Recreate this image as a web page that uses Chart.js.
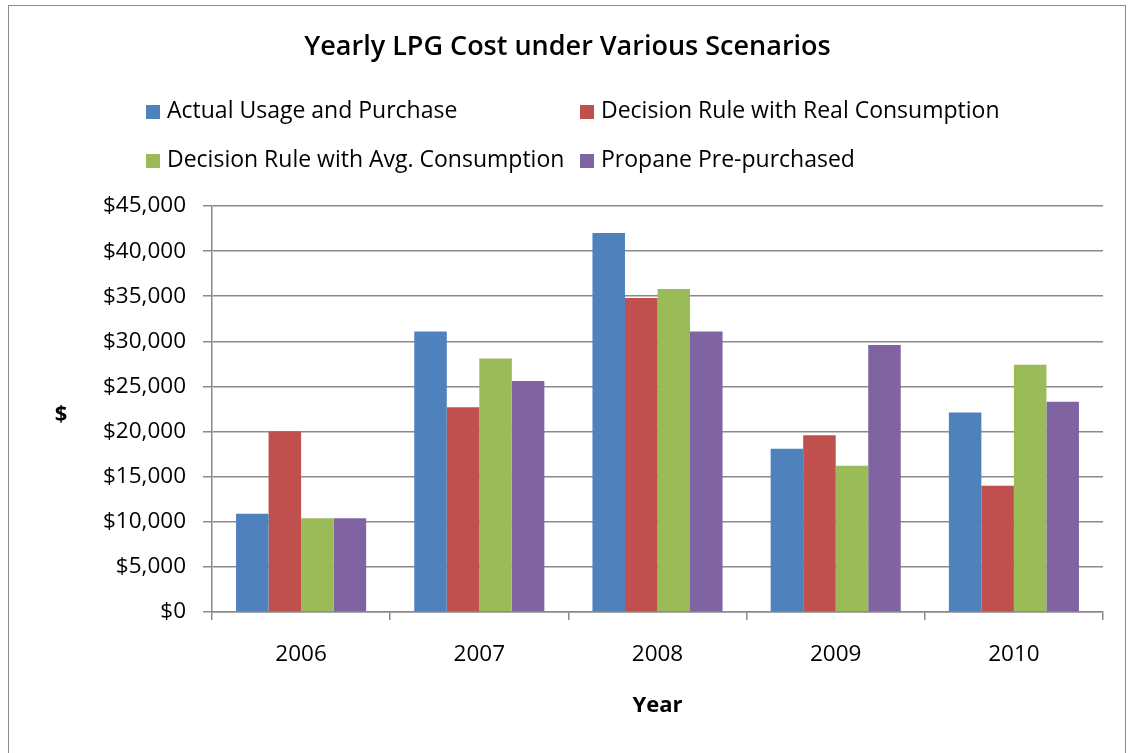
<!DOCTYPE html>
<html>
<head>
<meta charset="utf-8">
<script src="https://cdn.jsdelivr.net/npm/chart.js@4.4.1/dist/chart.umd.min.js"></script>
<style>
  body { margin: 0; background: #fff; }
  #wrap { position: relative; width: 1135px; height: 753px; overflow: hidden; }
  #frame { position: absolute; left: 8px; top: 5px; width: 1118px; height: 760px; border: 1.5px solid #8a8a8a; box-sizing: border-box; pointer-events: none; }
  #title { position: absolute; left: 0; width: 1135px; top: 26px; text-align: center; font-family: "Open Sans", sans-serif; font-weight: 600; font-size: 27px; line-height: normal; color: #000; }
  .leg { position: absolute; font-family: "Open Sans", sans-serif; font-size: 23px; line-height: normal; color: #000; white-space: nowrap; }
  .leg span { display: inline-block; width: 14px; height: 14px; margin-right: 7px; vertical-align: -1px; }
  canvas { position: absolute; left: 0; top: 0; }
</style>
</head>
<body>
<div id="wrap">
  <canvas id="lpgChart" width="1135" height="753"></canvas>
  <div id="title">Yearly LPG Cost under Various Scenarios</div>
  <div id="legend"></div>
  <div id="frame"></div>
</div>
<script>
// Dados
const years = ['2006', '2007', '2008', '2009', '2010'];
const seriesNames = [
    'Actual Usage and Purchase',
    'Decision Rule with Real Consumption',
    'Decision Rule with Avg. Consumption',
    'Propane Pre-purchased'
];
const actualUsage   = [10900, 31100, 42000, 18100, 22100];
const ruleReal      = [20000, 22700, 34800, 19600, 14000];
const ruleAvg       = [10400, 28100, 35800, 16200, 27400];
const prePurchased  = [10400, 25600, 31100, 29600, 23300];
const colors = ['#4F81BD', '#C0504D', '#9BBB59', '#8064A2'];

const values = [actualUsage, ruleReal, ruleAvg, prePurchased];

// Legenda em duas colunas, como no original
const legend = document.getElementById('legend');
const colX = [146, 580];
const rowY = [93, 142];
seriesNames.forEach(function(name, i) {
    const item = document.createElement('div');
    item.className = 'leg';
    item.style.left = colX[i % 2] + 'px';
    item.style.top = rowY[Math.floor(i / 2)] + 'px';
    item.innerHTML = '<span style="background:' + colors[i] + '"></span>' + name;
    legend.appendChild(item);
});

// Rótulo "$" do eixo Y (sem rotação)
const dollarLabel = {
    id: 'dollarLabel',
    afterDraw(chart) {
        const ctx = chart.ctx;
        ctx.save();
        ctx.font = 'bold 22px "Open Sans", sans-serif';
        ctx.fillStyle = '#000';
        ctx.textAlign = 'center';
        ctx.textBaseline = 'middle';
        ctx.fillText('$', 61, 415);
        ctx.restore();
    }
};

const ctx = document.getElementById('lpgChart').getContext('2d');
new Chart(ctx, {
    type: 'bar',
    data: {
        labels: years,
        datasets: seriesNames.map(function(name, i) {
            return {
                label: name,
                data: values[i],
                backgroundColor: colors[i],
                borderWidth: 0,
                categoryPercentage: 0.73,
                barPercentage: 1.0
            };
        })
    },
    options: {
        responsive: false,
        animation: false,
        layout: { padding: { left: 10, right: 32, top: 206, bottom: 0 } },
        plugins: {
            legend: { display: false },
            title: { display: false },
            tooltip: { enabled: false }
        },
        scales: {
            x: {
                grid: { offset: true, drawOnChartArea: false, drawTicks: true, tickLength: 8, color: '#8a8a8a', lineWidth: 1.5 },
                border: { color: '#8a8a8a', width: 1.5 },
                ticks: { padding: 21, color: '#000', font: { family: '"Open Sans", sans-serif', size: 22.5 } },
                title: { display: true, text: 'Year', color: '#000', font: { family: '"Open Sans", sans-serif', size: 22, weight: 'bold' }, padding: { top: 0, bottom: 34 } },
                afterFit: function(s) { s.height = 141; }
            },
            y: {
                min: 0,
                max: 45000,
                ticks: {
                    stepSize: 5000,
                    padding: 17,
                    color: '#000',
                    font: { family: '"Open Sans", sans-serif', size: 22.5 },
                    callback: function(v) { return '$' + v.toLocaleString('en-US'); }
                },
                grid: { color: '#8a8a8a', lineWidth: 1.5, tickLength: 9 },
                border: { color: '#8a8a8a', width: 1.5 },
                afterFit: function(s) { s.width = 202; }
            }
        }
    },
    plugins: [dollarLabel]
});
</script>
</body>
</html>
